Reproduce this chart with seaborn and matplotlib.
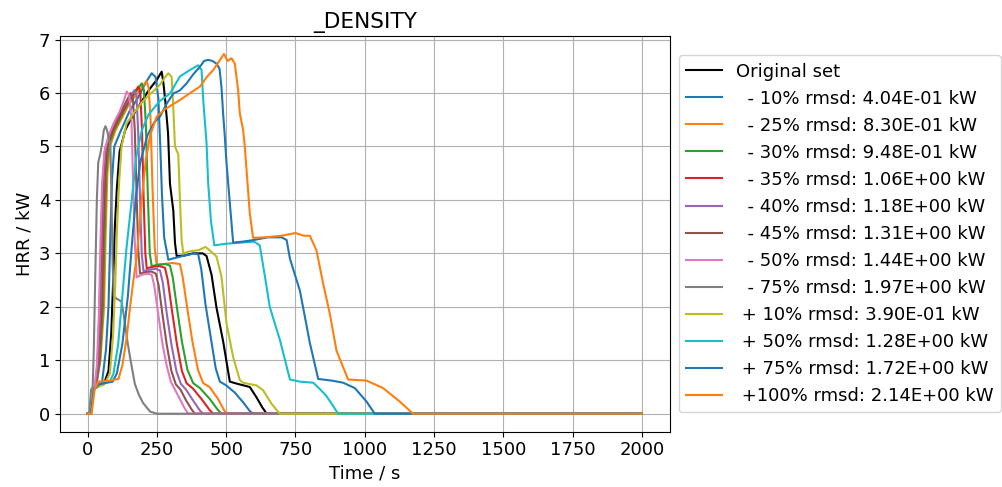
import matplotlib
matplotlib.use("Agg")
import matplotlib.pyplot as plt
import seaborn as sns
import pandas as pd

# ---- data ----
labels = ["Original set",
          "  - 10% rmsd: 4.04E-01 kW",
          "  - 25% rmsd: 8.30E-01 kW",
          "  - 30% rmsd: 9.48E-01 kW",
          "  - 35% rmsd: 1.06E+00 kW",
          "  - 40% rmsd: 1.18E+00 kW",
          "  - 45% rmsd: 1.31E+00 kW",
          "  - 50% rmsd: 1.44E+00 kW",
          "  - 75% rmsd: 1.97E+00 kW",
          " + 10% rmsd: 3.90E-01 kW",
          " + 50% rmsd: 1.28E+00 kW",
          " + 75% rmsd: 1.72E+00 kW",
          " +100% rmsd: 2.14E+00 kW"]

t_orig = [0, 12, 20, 35, 60, 75, 85, 92, 98, 105, 115, 135, 160, 190, 220, 250, 267, 273, 280, 290, 297, 309, 315, 321, 350, 380, 415, 429, 447, 465, 489, 513, 540, 585, 610, 630, 646, 2000]
v_orig = [0, 0, 0.45, 0.5, 0.58, 0.8, 1.5, 2.5, 3.5, 4.2, 4.9, 5.3, 5.55, 5.8, 6.05, 6.25, 6.40, 6.2, 5.85, 5.25, 4.3, 3.8, 3.2, 2.95, 2.96, 3.0, 3.0, 2.95, 2.6, 1.98, 1.35, 0.6, 0.56, 0.5, 0.3, 0.12, 0, 0]

t_m10 = [0, 11, 19, 32, 52, 66, 75, 82, 88, 96, 120, 150, 180, 210, 231, 245, 255, 262, 268, 276, 291, 320, 350, 385, 399, 410, 425, 445, 462, 477, 500, 530, 560, 585, 597, 2000]
v_m10 = [0, 0, 0.45, 0.5, 0.6, 1.2, 2.0, 3.4, 4.4, 5.0, 5.3, 5.65, 5.9, 6.2, 6.37, 6.3, 5.9, 5.0, 4.1, 3.3, 2.88, 2.92, 2.96, 3.0, 2.98, 2.7, 2.05, 1.4, 0.85, 0.6, 0.53, 0.4, 0.22, 0.05, 0, 0]

t_m25 = [0, 10, 18, 30, 46, 59, 65, 71, 80, 100, 125, 150, 180, 212, 220, 227, 234, 242, 249, 275, 305, 333, 343, 360, 378, 398, 417, 440, 470, 492, 501, 2000]
v_m25 = [0, 0, 0.45, 0.5, 1.0, 2.0, 3.4, 4.5, 5.0, 5.3, 5.55, 5.8, 6.0, 6.22, 6.1, 5.5, 4.2, 3.1, 2.78, 2.8, 2.82, 2.8, 2.55, 1.95, 1.35, 0.82, 0.57, 0.5, 0.28, 0.07, 0, 0]

t_m30 = [0, 10, 18, 30, 44, 55, 61, 67, 75, 95, 115, 140, 170, 195, 203, 210, 217, 224, 231, 255, 280, 297, 307, 323, 340, 360, 381, 405, 440, 470, 483, 2000]
v_m30 = [0, 0, 0.45, 0.5, 1.0, 2.0, 3.4, 4.5, 5.0, 5.3, 5.5, 5.75, 6.0, 6.18, 6.05, 5.4, 4.1, 3.0, 2.76, 2.79, 2.8, 2.77, 2.55, 1.95, 1.35, 0.82, 0.57, 0.48, 0.28, 0.07, 0, 0]

t_m35 = [0, 9, 17, 28, 40, 50, 56, 62, 70, 90, 110, 130, 160, 183, 190, 196, 202, 208, 213, 235, 260, 279, 289, 305, 322, 340, 357, 380, 410, 440, 453, 2000]
v_m35 = [0, 0, 0.45, 0.5, 0.95, 2.0, 3.4, 4.5, 5.0, 5.3, 5.5, 5.7, 5.95, 6.12, 6.0, 5.3, 4.0, 3.0, 2.72, 2.75, 2.76, 2.73, 2.5, 1.9, 1.3, 0.8, 0.57, 0.47, 0.28, 0.07, 0, 0]

t_m40 = [0, 9, 16, 27, 37, 46, 52, 58, 66, 85, 105, 125, 150, 168, 176, 182, 189, 195, 201, 225, 245, 261, 271, 286, 302, 320, 336, 355, 380, 405, 417, 2000]
v_m40 = [0, 0, 0.45, 0.5, 0.9, 2.0, 3.4, 4.5, 5.0, 5.3, 5.5, 5.7, 5.9, 6.05, 5.95, 5.3, 4.0, 3.0, 2.67, 2.7, 2.71, 2.68, 2.45, 1.85, 1.3, 0.8, 0.56, 0.45, 0.25, 0.06, 0, 0]

t_m45 = [0, 8, 15, 26, 35, 43, 49, 55, 63, 80, 100, 120, 140, 155, 163, 170, 177, 183, 189, 210, 230, 246, 256, 270, 285, 302, 318, 335, 355, 375, 387, 2000]
v_m45 = [0, 0, 0.45, 0.5, 0.9, 2.0, 3.3, 4.4, 4.95, 5.25, 5.45, 5.65, 5.85, 6.0, 5.9, 5.3, 4.0, 3.0, 2.62, 2.65, 2.66, 2.62, 2.4, 1.85, 1.3, 0.8, 0.55, 0.45, 0.25, 0.08, 0, 0]

t_m50 = [0, 8, 14, 25, 33, 40, 46, 52, 60, 75, 95, 115, 130, 141, 150, 158, 164, 170, 177, 195, 215, 231, 240, 255, 270, 285, 300, 315, 330, 350, 363, 2000]
v_m50 = [0, 0, 0.45, 0.5, 0.9, 1.8, 3.2, 4.3, 4.9, 5.2, 5.45, 5.65, 5.85, 6.03, 5.95, 5.5, 4.3, 3.2, 2.55, 2.6, 2.62, 2.6, 2.4, 1.85, 1.3, 0.9, 0.6, 0.45, 0.3, 0.1, 0, 0]

t_m75 = [0, 6, 12, 18, 22, 27, 33, 38, 45, 52, 58, 64, 70, 76, 82, 86, 90, 94, 105, 122, 130, 142, 153, 170, 185, 200, 225, 250, 2000]
v_m75 = [0, 0, 0.45, 0.5, 1.2, 2.5, 4.0, 4.7, 4.85, 5.05, 5.3, 5.38, 5.3, 5.15, 5.0, 4.0, 2.8, 2.2, 2.15, 2.1, 1.85, 1.4, 1.05, 0.56, 0.35, 0.2, 0.04, 0, 0]

t_p10 = [0, 12, 20, 35, 60, 80, 92, 100, 106, 113, 122, 140, 170, 200, 230, 260, 280, 291, 303, 310, 315, 327, 333, 339, 345, 370, 400, 425, 435, 465, 483, 501, 525, 549, 561, 609, 633, 663, 693, 2000]
v_p10 = [0, 0, 0.45, 0.5, 0.55, 0.75, 1.5, 2.5, 3.5, 4.3, 5.0, 5.43, 5.65, 5.85, 6.0, 6.15, 6.3, 6.37, 6.3, 5.6, 5.0, 4.85, 4.0, 3.25, 3.0, 3.04, 3.06, 3.12, 3.08, 2.94, 2.56, 1.69, 1.06, 0.63, 0.58, 0.53, 0.44, 0.19, 0, 0]

t_p50 = [0, 12, 22, 40, 80, 93, 110, 125, 140, 159, 175, 195, 220, 260, 297, 333, 369, 399, 411, 417, 429, 435, 445, 457, 500, 550, 600, 621, 640, 657, 694, 730, 766, 814, 840, 862, 904, 2000]
v_p50 = [0, 0, 0.45, 0.55, 0.6, 0.75, 1.3, 2.2, 3.1, 4.0, 4.8, 5.3, 5.6, 5.85, 5.99, 6.31, 6.43, 6.52, 6.43, 5.87, 5.06, 4.3, 3.6, 3.15, 3.18, 3.2, 3.22, 3.15, 2.56, 2.0, 1.375, 0.64, 0.6, 0.58, 0.45, 0.33, 0, 0]

t_p75 = [0, 12, 22, 40, 90, 105, 125, 145, 160, 175, 189, 215, 240, 261, 285, 309, 333, 357, 381, 405, 420, 435, 450, 465, 476, 483, 489, 495, 501, 513, 525, 560, 600, 650, 700, 718, 730, 766, 802, 832, 880, 922, 964, 1006, 1036, 2000]
v_p75 = [0, 0, 0.45, 0.55, 0.6, 0.75, 1.3, 2.2, 3.2, 4.1, 4.69, 5.2, 5.45, 5.56, 5.8, 5.99, 6.05, 6.18, 6.35, 6.49, 6.6, 6.62, 6.6, 6.55, 6.45, 6.1, 5.6, 5.18, 4.69, 3.94, 3.2, 3.22, 3.25, 3.3, 3.3, 3.25, 2.9, 2.3, 1.32, 0.65, 0.62, 0.58, 0.48, 0.23, 0, 0]

t_p100 = [0, 14, 25, 38, 80, 111, 125, 140, 153, 165, 177, 195, 210, 225, 249, 280, 333, 370, 405, 430, 453, 475, 492, 505, 519, 531, 543, 549, 561, 567, 585, 597, 640, 700, 750, 780, 802, 826, 850, 874, 898, 922, 940, 1006, 1066, 1126, 1174, 2000]
v_p100 = [0, 0, 0.45, 0.6, 0.62, 0.65, 0.9, 1.4, 2.0, 2.5, 2.94, 4.0, 4.75, 5.2, 5.56, 5.7, 5.87, 6.0, 6.12, 6.3, 6.43, 6.6, 6.73, 6.6, 6.65, 6.55, 6.05, 5.62, 5.31, 5.0, 3.75, 3.29, 3.3, 3.33, 3.38, 3.33, 3.33, 3.05, 2.43, 1.87, 1.18, 0.87, 0.64, 0.62, 0.48, 0.23, 0, 0]

times = [t_orig, t_m10, t_m25, t_m30, t_m35, t_m40, t_m45, t_m50, t_m75, t_p10, t_p50, t_p75, t_p100]
values = [v_orig, v_m10, v_m25, v_m30, v_m35, v_m40, v_m45, v_m50, v_m75, v_p10, v_p50, v_p75, v_p100]

tab = sns.color_palette("tab10")
colors = ["black"] + [tab[i % 10] for i in range(12)]

plt.rcParams["font.size"] = 13
plt.rcParams["font.family"] = ["DejaVu Sans"]

fig = plt.figure(figsize=(10.02, 4.87), dpi=100)
ax = fig.add_axes([60 / 1002, (487 - 431.7) / 487, 609.5 / 1002, 395.7 / 487])

for lab, t, v, c in zip(labels, times, values, colors):
    df = pd.DataFrame({"t": t, "v": v})
    sns.lineplot(data=df, x="t", y="v", color=c, label=lab, ax=ax,
                 sort=False, estimator=None, linewidth=1.5)

ax.grid(True, color="#b0b0b0", linewidth=0.8)
ax.set_axisbelow(True)
ax.set_xlabel("Time / s")
ax.set_ylabel("HRR / kW")
ax.set_title("_DENSITY", fontsize=15.6)
ax.set_xticks([0, 250, 500, 750, 1000, 1250, 1500, 1750, 2000])
ax.set_yticks([0, 1, 2, 3, 4, 5, 6, 7])
ax.legend(loc="center left", bbox_to_anchor=(1.0, 0.5), fontsize=13)

fig.savefig("out.png", dpi=100)
